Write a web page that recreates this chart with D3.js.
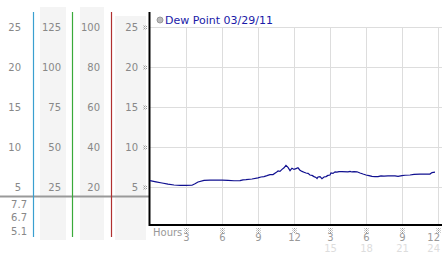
<!DOCTYPE html>
<html>
<head>
<meta charset="utf-8">
<script src="https://cdn.jsdelivr.net/npm/d3@7"></script>
<style>
  body { margin: 0; background: #fff; }
  text { font-family: "DejaVu Sans", Verdana, sans-serif; }
</style>
</head>
<body>
<svg id="chart" width="442" height="253"></svg>
<script>
// dew point readings (hours since start, value)
const hours = [0, 0.5, 1, 1.5, 2, 2.5, 3, 3.5, 3.75, 4, 4.5, 5, 6, 6.5, 7, 7.5, 7.75, 8, 8.5, 9,
  9.25, 9.5, 9.75, 10, 10.25, 10.5, 10.67, 10.83, 11, 11.17, 11.33, 11.5, 11.67, 11.83, 12, 12.17,
  12.33, 12.5, 12.67, 12.83, 13, 13.17, 13.33, 13.5, 13.67, 13.83, 13.92, 14, 14.17, 14.33, 14.5,
  14.67, 14.83, 15, 15.08, 15.25, 15.42, 15.58, 15.75, 16, 16.5, 16.67, 16.83, 17, 17.25, 17.5,
  17.75, 18, 18.25, 18.5, 18.75, 19, 19.25, 19.5, 19.83, 20.17, 20.42, 20.67, 21, 21.25, 21.67,
  22, 22.5, 23, 23.33, 23.5, 23.75];
const dewPoint = [5.8, 5.65, 5.5, 5.35, 5.25, 5.2, 5.2, 5.22, 5.4, 5.62, 5.82, 5.85, 5.85, 5.82,
  5.78, 5.8, 5.9, 5.92, 6.0, 6.15, 6.25, 6.3, 6.42, 6.55, 6.55, 6.8, 7.0, 6.95, 7.2, 7.4, 7.7,
  7.45, 7.05, 7.35, 7.2, 7.3, 7.4, 7.1, 6.95, 6.85, 6.75, 6.7, 6.5, 6.45, 6.3, 6.2, 6.05, 6.25,
  6.3, 6.05, 6.25, 6.3, 6.45, 6.5, 6.75, 6.7, 6.9, 6.85, 6.92, 6.92, 6.9, 6.95, 6.88, 6.92, 6.9,
  6.75, 6.62, 6.5, 6.42, 6.32, 6.3, 6.3, 6.38, 6.36, 6.38, 6.38, 6.4, 6.33, 6.42, 6.47, 6.5,
  6.58, 6.6, 6.6, 6.62, 6.8, 6.85];

const dewTicks = [5, 10, 15, 20, 25];
const col2Ticks = [25, 50, 75, 100, 125];
const col3Ticks = [20, 40, 60, 80, 100];
const statLabels = ["7.7", "6.7", "5.1"];
const hourTicks = [3, 6, 9, 12, 15, 18, 21, 24];
const hourLabels = ["3", "6", "9", "12", "3", "6", "9", "12"];
const hourLabels2 = ["", "", "", "", "15", "18", "21", "24"];
const legendLabel = "Dew Point 03/29/11";

const svg = d3.select("#chart");

const plot = { left: 150, right: 442, top: 12, bottom: 225 };

const x = d3.scaleLinear().domain([0, 24]).range([150, 438]);
const y = d3.scaleLinear().domain([0.25, 26.875]).range([plot.bottom, plot.top]);
const y2 = y.copy().domain(y.domain().map((d) => d * 5));
const y3 = y.copy().domain(y.domain().map((d) => d * 4));

// hatch pattern for the tiny tick marks
const defs = svg.append("defs");
const pat = defs.append("pattern")
  .attr("id", "hatch")
  .attr("width", 2).attr("height", 2)
  .attr("patternUnits", "userSpaceOnUse");
pat.append("rect").attr("width", 1).attr("height", 1).attr("fill", "#999");
pat.append("rect").attr("x", 1).attr("y", 1).attr("width", 1).attr("height", 1).attr("fill", "#ccc");

// left panel backgrounds
const panels = [
  { x0: 40, x1: 66, top: 7 },
  { x0: 80, x1: 104, top: 7 },
  { x0: 115, x1: 146, top: 16 },
];
panels.forEach((p) => {
  svg.append("rect")
    .attr("x", p.x0).attr("y", p.top)
    .attr("width", p.x1 - p.x0).attr("height", 240 - p.top)
    .attr("fill", "#f4f4f4");
});

// horizontal grid
svg.append("g")
  .selectAll("line")
  .data(dewTicks)
  .join("line")
  .attr("x1", plot.left).attr("x2", plot.right)
  .attr("y1", (d) => y(d) + 0.5).attr("y2", (d) => y(d) + 0.5)
  .attr("stroke", "#ddd");

// vertical grid
svg.append("g")
  .selectAll("line")
  .data(hourTicks)
  .join("line")
  .attr("x1", (d) => x(d) + 0.5).attr("x2", (d) => x(d) + 0.5)
  .attr("y1", y(25)).attr("y2", plot.bottom)
  .attr("stroke", "#ddd");

// separator line across left panels
svg.append("line")
  .attr("x1", 0).attr("x2", plot.left)
  .attr("y1", 196.5).attr("y2", 196.5)
  .attr("stroke", "#999").attr("stroke-width", 2);

// colored dividers
const dividers = [
  { x: 33.5, color: "#3a9fd0" },
  { x: 72.5, color: "#3aaa3a" },
  { x: 111.5, color: "#b03030" },
];
dividers.forEach((d) => {
  svg.append("line")
    .attr("x1", d.x).attr("x2", d.x)
    .attr("y1", 12).attr("y2", 237)
    .attr("stroke", d.color).attr("stroke-width", 1.2);
});

// left labels
const labelStyle = (sel) => sel
  .attr("text-anchor", "end")
  .attr("dy", "0.35em")
  .style("font-size", "10px")
  .style("fill", "#888");

svg.append("g").selectAll("text").data(dewTicks).join("text")
  .attr("x", 21).attr("y", (d) => y(d)).call(labelStyle).text((d) => d);
svg.append("g").selectAll("text").data(col2Ticks).join("text")
  .attr("x", 61).attr("y", (d) => y2(d)).call(labelStyle).text((d) => d);
svg.append("g").selectAll("text").data(col3Ticks).join("text")
  .attr("x", 100).attr("y", (d) => y3(d)).call(labelStyle).text((d) => d);
svg.append("g").selectAll("text").data(dewTicks).join("text")
  .attr("x", 138).attr("y", (d) => y(d)).call(labelStyle).text((d) => d);

svg.append("g").selectAll("text").data(statLabels).join("text")
  .attr("x", 27).attr("y", (d, i) => 204 + i * 13.5).call(labelStyle).text((d) => d);

// small hatched marks on the y side
svg.append("g").selectAll("rect").data(dewTicks).join("rect")
  .attr("x", 143).attr("y", (d) => y(d) - 2)
  .attr("width", 4).attr("height", 5)
  .attr("fill", "url(#hatch)");

// small hatched marks on the x side
svg.append("g").selectAll("rect").data(hourTicks).join("rect")
  .attr("x", (d) => x(d) - 1.5).attr("y", 228)
  .attr("width", 4).attr("height", 5)
  .attr("fill", "url(#hatch)");

// hour labels (last column is pulled inside the edge)
const lastTick = hourTicks[hourTicks.length - 1];
const hourAnchor = (d) => (d === lastTick ? "end" : "middle");
const hourX = (d) => (d === lastTick ? x(d) + 2 : x(d) + 0.5);

svg.append("g").selectAll("text").data(hourTicks).join("text")
  .attr("x", hourX).attr("y", 241)
  .attr("text-anchor", hourAnchor)
  .style("font-size", "10px").style("fill", "#999")
  .text((d, i) => hourLabels[i]);
svg.append("g").selectAll("text").data(hourTicks).join("text")
  .attr("x", hourX).attr("y", 251.5)
  .attr("text-anchor", hourAnchor)
  .style("font-size", "10px").style("fill", "#ddd")
  .text((d, i) => hourLabels2[i]);

svg.append("text")
  .attr("x", 153).attr("y", 236)
  .style("font-size", "10px").style("fill", "#999")
  .text("Hours");

// axes
svg.append("line")
  .attr("x1", 149.5).attr("x2", 149.5)
  .attr("y1", plot.top).attr("y2", plot.bottom + 1)
  .attr("stroke", "#000").attr("stroke-width", 2);
svg.append("line")
  .attr("x1", 149).attr("x2", plot.right)
  .attr("y1", plot.bottom).attr("y2", plot.bottom)
  .attr("stroke", "#000").attr("stroke-width", 2);

// data line
const line = d3.line()
  .x((d) => x(d[0]))
  .y((d) => y(d[1]));
svg.append("path")
  .datum(d3.zip(hours, dewPoint))
  .attr("d", line)
  .attr("fill", "none")
  .attr("stroke", "#101090")
  .attr("stroke-width", 1.2);

// legend
svg.append("circle")
  .attr("cx", 160).attr("cy", 20).attr("r", 3)
  .attr("fill", "#bbb").attr("stroke", "#999");
svg.append("text")
  .attr("x", 165).attr("y", 24)
  .style("font-size", "11px").style("fill", "#1a1aa8")
  .text(legendLabel);
</script>
</body>
</html>
